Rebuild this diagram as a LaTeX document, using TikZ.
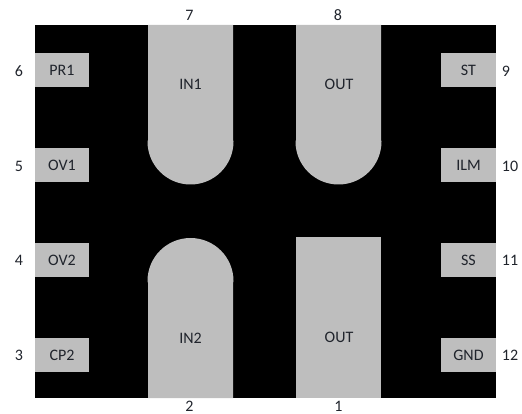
\documentclass[tikz,border=0pt]{standalone}
\usepackage{fontspec}
\setmainfont{Carlito}
\definecolor{padgray}{RGB}{190,190,190}
\definecolor{txt}{RGB}{32,36,44}
\tikzset{
  padbox/.style={fill=padgray,draw=none,inner sep=0pt,minimum width=54.5pt,minimum height=34pt,text=txt,font=\fontsize{16}{18}\selectfont},
  padtext/.style={inner sep=0pt,text=txt,font=\fontsize{16}{18}\selectfont},
  pinnum/.style={inner sep=0pt,text=txt,font=\fontsize{16}{18}\selectfont}
}
\begin{document}
\begin{tikzpicture}[x=1pt,y=-1pt]
\useasboundingbox (0,0) rectangle (522,414);
\fill[black] (35,25) rectangle (496,398);
% large pads
\fill[padgray] (148,25) -- (233,25) -- (233,140) -- (233.5,141.5) arc[start angle=0,end angle=180,radius=43] -- (148,140) -- cycle;
\fill[padgray] (296,25) -- (381,25) -- (381,140) -- (381.5,141.5) arc[start angle=0,end angle=180,radius=43] -- (296,140) -- cycle;
\fill[padgray] (148,398) -- (233,398) -- (233,283) -- (233.5,281) arc[start angle=0,end angle=-180,radius=43] -- (148,283) -- cycle;
\fill[padgray] (296,237) rectangle (381,398);
\node[padtext] (in1) at (190.5,84) {IN1};
\node[padtext] (out1) at (339,84) {OUT};
\node[padtext] (in2) at (190.5,338) {IN2};
\node[padtext] (out2) at (339,337.5) {OUT};
% small pads
\node[padbox] (pr1) at (62,70) {PR1};
\node[padbox] (ov1) at (62,165.5) {OV1};
\node[padbox] (ov2) at (62,260) {OV2};
\node[padbox] (cp2) at (62,355) {CP2};
\node[padbox] (st) at (468.5,70) {ST};
\node[padbox] (ilm) at (468.5,165.5) {ILM};
\node[padbox] (ss) at (468.5,260) {SS};
\node[padbox] (gnd) at (468.5,355) {GND};
% pin numbers
\node[pinnum] (p6) at (19,71) {6};
\node[pinnum] (p5) at (19,166) {5};
\node[pinnum] (p4) at (19,260) {4};
\node[pinnum] (p3) at (19,355) {3};
\node[pinnum] (p7) at (189.5,15) {7};
\node[pinnum] (p8) at (338,15) {8};
\node[pinnum] (p2) at (189.5,406) {2};
\node[pinnum] (p1) at (338.5,406) {1};
\node[pinnum] (p9) at (506,71) {9};
\node[pinnum] (p10) at (510,166) {10};
\node[pinnum] (p11) at (510,260) {11};
\node[pinnum] (p12) at (510,355) {12};
\end{tikzpicture}
\end{document}
